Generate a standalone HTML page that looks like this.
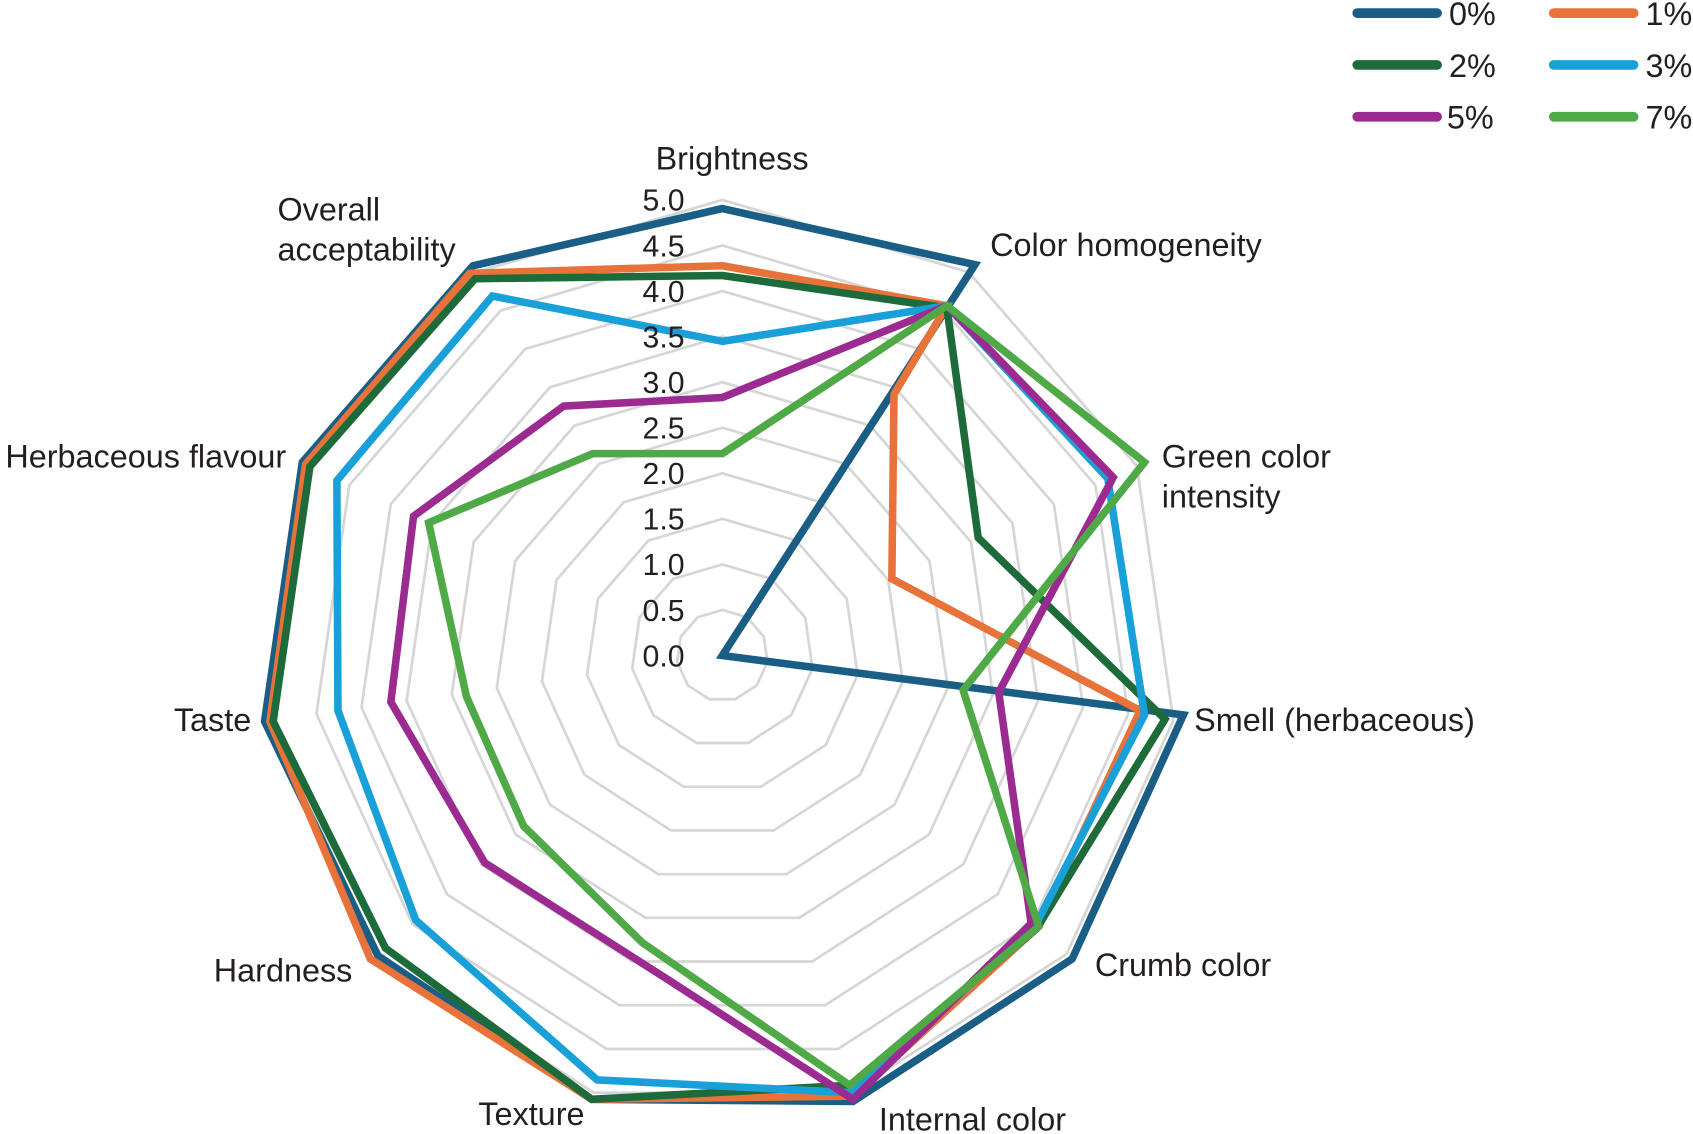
<!DOCTYPE html>
<html><head><meta charset="utf-8"><style>
html,body{margin:0;padding:0;background:#fff;}
svg{display:block;}
text{font-family:"Liberation Sans",Arial,sans-serif;fill:#231f20;}
</style></head><body>
<svg width="1693" height="1134" viewBox="0 0 1568 1050" xmlns="http://www.w3.org/2000/svg">
<g id="grid" fill="none" stroke="#d6d6d6" stroke-width="2.5"></g>
<g fill="none" stroke-width="7" stroke-linejoin="miter" stroke-miterlimit="3">
<polygon stroke="#1a5e85" points="669,193 903,245 669,607 1096,662 993,888 790,1020 548,1018 350,885 245,668 280,428 438,246"/>
<polygon stroke="#e8733a" points="669,246 877,283 828,365 826,536 1056,658 962,858 790,1015 548,1018 343,888 250,668 283,430 435,253"/>
<polygon stroke="#1d6b3a" points="669,255 877,285 906,498 1079,666 960,860 787,1005 548,1018 357,878 253,668 287,432 440,258"/>
<polygon stroke="#1aa0d8" points="669,316 877,283 1026,443 1060,662 960,855 790,1012 553,1000 385,852 313,658 312,445 456,274"/>
<polygon stroke="#9b2a91" points="669,368 877,283 1031,442 925,641 955,855 790,1018 620,908 449,799 362,650 383,478 522,376"/>
<polygon stroke="#4ea946" points="669,420 877,283 1060,428 892,639 962,858 787,1005 595,873 485,765 432,645 397,484 549,420"/>
</g>
<g font-size="28" text-anchor="end" id="ticks"></g>
<g font-size="30">
<text x="678" y="157" text-anchor="middle">Brightness</text>
<text x="917" y="237">Color homogeneity</text>
<text x="1076" y="433">Green color</text>
<text x="1076" y="470">intensity</text>
<text x="1106" y="677">Smell (herbaceous)</text>
<text x="1014" y="904">Crumb color</text>
<text x="814" y="1047">Internal color</text>
<text x="443" y="1042">Texture</text>
<text x="198" y="909">Hardness</text>
<text x="161" y="677">Taste</text>
<text x="265" y="433" text-anchor="end">Herbaceous flavour</text>
<text x="257" y="204">Overall</text>
<text x="257" y="241">acceptability</text>
</g>
<g stroke-width="9" stroke-linecap="round">
<line x1="1257" y1="12" x2="1331" y2="12" stroke="#1a5e85"/>
<line x1="1439" y1="12" x2="1513" y2="12" stroke="#e8733a"/>
<line x1="1257" y1="60" x2="1331" y2="60" stroke="#1d6b3a"/>
<line x1="1439" y1="60" x2="1513" y2="60" stroke="#1aa0d8"/>
<line x1="1257" y1="108" x2="1331" y2="108" stroke="#9b2a91"/>
<line x1="1439" y1="108" x2="1513" y2="108" stroke="#4ea946"/>
</g>
<g font-size="30">
<text x="1342" y="23">0%</text><text x="1524" y="23">1%</text>
<text x="1342" y="71">2%</text><text x="1524" y="71">3%</text>
<text x="1340" y="119">5%</text><text x="1524" y="119">7%</text>
</g>
<script>
(function(){
var ns="http://www.w3.org/2000/svg",g=document.getElementById("grid"),t=document.getElementById("ticks");
var cx=669,cy=607,u=84.4;
for(var k=1;k<=10;k++){var r=k*u/2,p=[];for(var i=0;i<11;i++){var a=i*2*Math.PI/11;p.push((cx+r*Math.sin(a)).toFixed(1)+","+(cy-r*Math.cos(a)).toFixed(1));}
var pg=document.createElementNS(ns,"polygon");pg.setAttribute("points",p.join(" "));g.appendChild(pg);}
for(var k=0;k<=10;k++){var tx=document.createElementNS(ns,"text");tx.setAttribute("x",634);tx.setAttribute("y",(cy-k*u/2+10).toFixed(1));tx.textContent=(k/2).toFixed(1);t.appendChild(tx);}
})();
</script>
</svg>
</body></html>
